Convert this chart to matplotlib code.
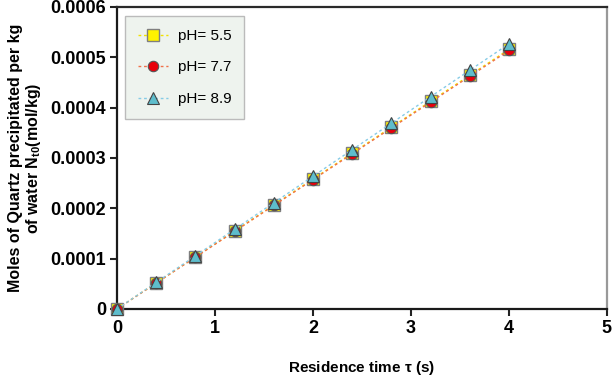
import matplotlib
matplotlib.use("Agg")
import matplotlib.pyplot as plt

plt.rcParams['font.family'] = ['Liberation Sans', 'DejaVu Sans']
plt.rcParams['mathtext.fontset'] = 'custom'
plt.rcParams['mathtext.rm'] = 'Liberation Sans'
plt.rcParams['mathtext.it'] = 'Liberation Sans:italic'
plt.rcParams['mathtext.bf'] = 'Liberation Sans:bold'

# residence time (s)
tau = [0, 0.4, 0.8, 1.2, 1.6, 2.0, 2.4, 2.8, 3.2, 3.6, 4.0]
# moles of quartz precipitated per kg water
n_55 = [0, 0.0000518, 0.0001034, 0.0001548, 0.0002065, 0.0002580,
        0.0003095, 0.0003610, 0.0004125, 0.0004640, 0.0005155]
n_77 = [0, 0.0000514, 0.0001028, 0.0001541, 0.0002055, 0.0002568,
        0.0003080, 0.0003594, 0.0004107, 0.0004620, 0.0005133]
n_89 = [0, 0.0000528, 0.0001055, 0.0001582, 0.0002108, 0.0002635,
        0.0003162, 0.0003688, 0.0004214, 0.0004740, 0.0005265]

xticks = [0, 1, 2, 3, 4, 5]
yticks = [0, 0.0001, 0.0002, 0.0003, 0.0004, 0.0005, 0.0006]
ylabels = ["0", "0.0001", "0.0002", "0.0003", "0.0004", "0.0005", "0.0006"]

fig = plt.figure(figsize=(6.13, 3.8), dpi=100)
ax = fig.add_axes([0.191, 0.187, 0.799, 0.795])

ax.plot(tau, n_55, ls=(0, (2, 2)), lw=1, color="#f2e200", marker="s", ms=8,
        mfc="#fff200", mec="#7f7f7f", mew=1, label="pH= 5.5", zorder=3, clip_on=False)
ax.plot(tau, n_77, ls=(0, (2, 2)), lw=1, color="#f0704a", marker="o", ms=7.5,
        mfc="#e8000b", mec="#555555", mew=0.8, label="pH= 7.7", zorder=4, clip_on=False)
ax.plot(tau, n_89, ls=(0, (2, 2)), lw=1, color="#86cbe6", marker="^", ms=9,
        mfc="#5ebdcc", mec="#444444", mew=0.8, label="pH= 8.9", zorder=5, clip_on=False)

ax.set_xlim(0, 5)
ax.set_ylim(0, 0.0006)
ax.set_xticks(xticks)
ax.set_xticklabels([str(t) for t in xticks], fontweight="bold", fontsize=13)
ax.set_yticks(yticks)
ax.set_yticklabels(ylabels, fontweight="bold", fontsize=13)
ax.tick_params(axis="both", direction="out", length=5, width=1.5, color="#222222", pad=3)

for s in ["left", "bottom"]:
    ax.spines[s].set_linewidth(1.6)
    ax.spines[s].set_color("#1a1a1a")
ax.spines["top"].set_linewidth(1.6)
ax.spines["top"].set_color("#2a2a2a")
ax.spines["right"].set_linewidth(1.6)
ax.spines["right"].set_color("#999999")

ax.set_xlabel(r"Residence time $\mathbf{\tau}$ (s)", fontweight="bold", fontsize=11, labelpad=16)
ax.set_ylabel("Moles of Quartz precipitated per kg\nof water N$_{\\mathbf{t0}}$(mol/kg)",
              fontweight="bold", fontsize=11.5, labelpad=5, linespacing=1.1)

leg = ax.legend(loc="upper left", bbox_to_anchor=(0.016, 0.97), borderaxespad=0,
                fontsize=11, handlelength=2.0, handletextpad=0.6, labelspacing=1.15,
                borderpad=0.85, frameon=True, fancybox=False)
leg.get_frame().set_facecolor("#eef3ee")
leg.get_frame().set_edgecolor("#bbbbbb")
leg.get_frame().set_alpha(1)

fig.savefig("out.png", dpi=100)
